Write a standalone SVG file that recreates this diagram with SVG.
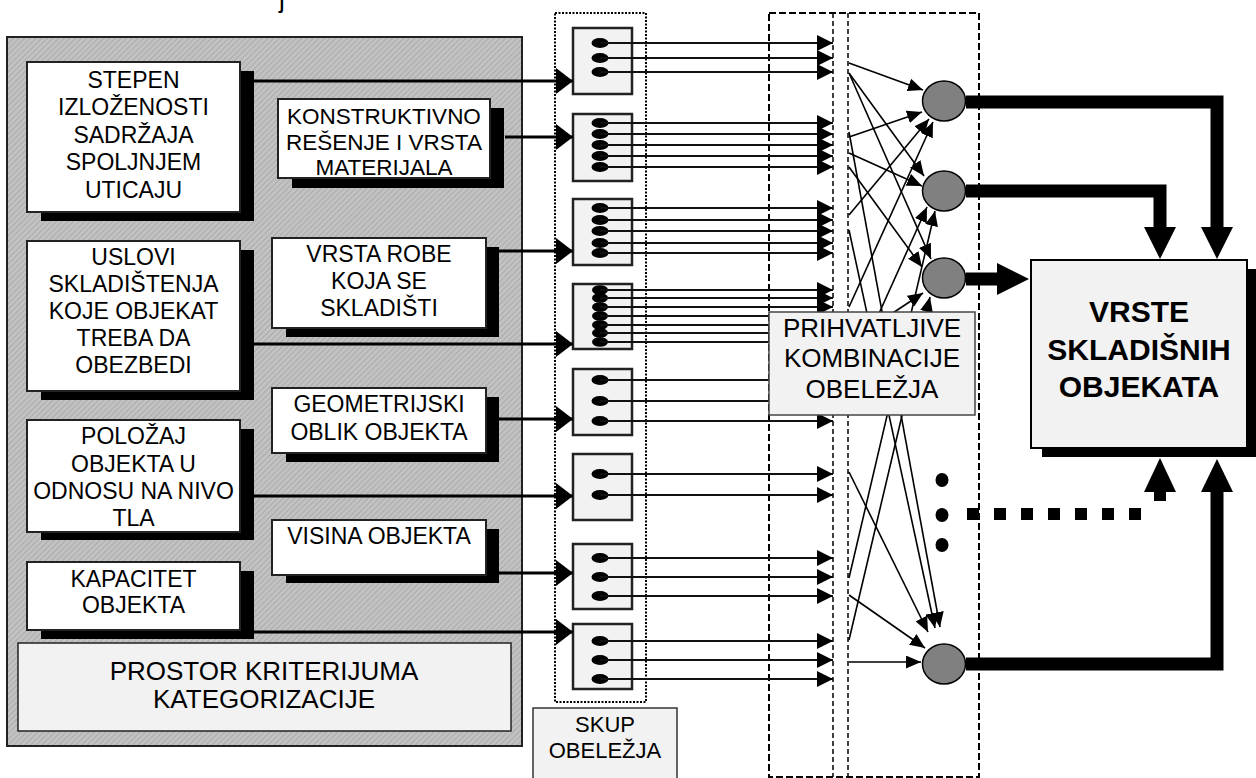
<svg xmlns="http://www.w3.org/2000/svg" width="1256" height="778" viewBox="0 0 1256 778">
<style>
text{font-family:"Liberation Sans",Arial,sans-serif;fill:#000;text-anchor:middle}
.t{font-size:23px}
.wbox{fill:#fff;stroke:#222;stroke-width:2}
.shadow{fill:#000}
.fbox{fill:#f2f2f2;stroke:#222;stroke-width:2.5}
.dot{fill:#000}
.thick{stroke:#000;stroke-width:3;fill:none}
.feat{stroke:#111;stroke-width:1.8;fill:none}
.mesh{stroke:#000;stroke-width:1.6;fill:none}
.bar{stroke:#000;stroke-width:13;fill:none;stroke-linejoin:miter}
.circ{fill:#808080;stroke:#000;stroke-width:1.5}
</style>
<defs>
<pattern id="hatch" patternUnits="userSpaceOnUse" width="4" height="4" patternTransform="rotate(45)">
<rect width="4" height="4" fill="#c2c2c2"/>
<line x1="0" y1="0" x2="0" y2="4" stroke="#a2a2a2" stroke-width="1.4"/>
</pattern>
<marker id="big" markerUnits="userSpaceOnUse" markerWidth="17" markerHeight="26" refX="17" refY="13" orient="auto"><path d="M0,0 L17,13 L0,26 z" fill="#000"/></marker>
<marker id="mid" markerUnits="userSpaceOnUse" markerWidth="16" markerHeight="16" refX="16" refY="8" orient="auto"><path d="M0,0 L16,8 L0,16 z" fill="#000"/></marker>
<marker id="sm" markerUnits="userSpaceOnUse" markerWidth="15" markerHeight="13" refX="15" refY="6.5" orient="auto"><path d="M0,0 L15,6.5 L0,13 z" fill="#000"/></marker>
</defs>
<rect width="1256" height="778" fill="#fff"/>
<text x="282" y="8" style="font-size:26px">j</text>

<g id="prostor-space">
<rect x="7" y="37" width="515" height="709" fill="url(#hatch)" stroke="#222" stroke-width="2"/>
</g>

<g id="n-stepen">
<rect class="shadow" x="41" y="71" width="213" height="150"/>
<rect class="wbox" x="27" y="62" width="213" height="150"/>
<text class="t" x="133.5" y="87.5">STEPEN</text>
<text class="t" x="133.5" y="115">IZLOŽENOSTI</text>
<text class="t" x="133.5" y="142.5">SADRŽAJA</text>
<text class="t" x="133.5" y="170">SPOLJNJEM</text>
<text class="t" x="133.5" y="197.5">UTICAJU</text>
</g>
<g id="n-konstruktivno">
<rect class="shadow" x="292" y="108" width="212" height="80"/>
<rect class="wbox" x="278" y="99" width="212" height="79"/>
<text x="384" y="124" style="font-size:22.5px">KONSTRUKTIVNO</text>
<text x="384" y="150" style="font-size:22.5px">REŠENJE I VRSTA</text>
<text x="384" y="175" style="font-size:22.5px">MATERIJALA</text>
</g>
<g id="n-uslovi">
<rect class="shadow" x="41" y="250" width="213" height="150"/>
<rect class="wbox" x="27" y="241" width="213" height="150"/>
<text class="t" x="133.5" y="265">USLOVI</text>
<text class="t" x="133.5" y="292">SKLADIŠTENJA</text>
<text class="t" x="133.5" y="319">KOJE OBJEKAT</text>
<text class="t" x="133.5" y="346">TREBA DA</text>
<text class="t" x="133.5" y="373">OBEZBEDI</text>
</g>
<g id="n-vrsta-robe">
<rect class="shadow" x="286" y="247" width="213" height="90"/>
<rect class="wbox" x="272" y="238" width="214" height="90"/>
<text class="t" x="379" y="262">VRSTA ROBE</text>
<text class="t" x="379" y="289">KOJA SE</text>
<text class="t" x="379" y="316">SKLADIŠTI</text>
</g>
<g id="n-geometrijski">
<rect class="shadow" x="286" y="397" width="213" height="65"/>
<rect class="wbox" x="272" y="388" width="214" height="65"/>
<text class="t" x="379" y="412">GEOMETRIJSKI</text>
<text class="t" x="379" y="440">OBLIK OBJEKTA</text>
</g>
<g id="n-polozaj">
<rect class="shadow" x="41" y="429" width="213" height="111"/>
<rect class="wbox" x="27" y="420" width="213" height="112"/>
<text class="t" x="133.5" y="444">POLOŽAJ</text>
<text class="t" x="133.5" y="472">OBJEKTA U</text>
<text class="t" x="133.5" y="499">ODNOSU NA NIVO</text>
<text class="t" x="133.5" y="526">TLA</text>
</g>
<g id="n-visina">
<rect class="shadow" x="286" y="529" width="213" height="54"/>
<rect class="wbox" x="272" y="520" width="214" height="55"/>
<text class="t" x="379" y="544">VISINA OBJEKTA</text>
</g>
<g id="n-kapacitet">
<rect class="shadow" x="41" y="571" width="213" height="68"/>
<rect class="wbox" x="27" y="562" width="213" height="68"/>
<text class="t" x="133.5" y="587">KAPACITET</text>
<text class="t" x="133.5" y="613">OBJEKTA</text>
</g>
<g id="n-prostor-label">
<rect x="18" y="643" width="493" height="88" fill="#f2f2f2" stroke="#222" stroke-width="1.5"/>
<text x="264" y="680" style="font-size:26px">PROSTOR KRITERIJUMA</text>
<text x="264" y="708" style="font-size:26px">KATEGORIZACIJE</text>
</g>

<g id="skup">
<rect x="555" y="13" width="91" height="689" fill="none" stroke="#000" stroke-width="2" stroke-dasharray="2 1.5"/>
</g>
<g id="skup-label">
<rect x="533" y="708" width="144" height="75" fill="#f2f2f2" stroke="#333" stroke-width="1.5"/>
<text x="605" y="732" style="font-size:22px">SKUP</text>
<text x="605" y="758" style="font-size:22px">OBELEŽJA</text>
</g>

<g id="f1"><rect class="fbox" x="573" y="28" width="59" height="66"/><ellipse class="dot" cx="600" cy="43" rx="8.5" ry="5"/><ellipse class="dot" cx="600" cy="58" rx="8.5" ry="5"/><ellipse class="dot" cx="600" cy="72" rx="8.5" ry="5"/></g>
<g id="f2"><rect class="fbox" x="573" y="114" width="59" height="67"/><ellipse class="dot" cx="600" cy="123" rx="8.5" ry="5"/><ellipse class="dot" cx="600" cy="134" rx="8.5" ry="5"/><ellipse class="dot" cx="600" cy="145" rx="8.5" ry="5"/><ellipse class="dot" cx="600" cy="156" rx="8.5" ry="5"/><ellipse class="dot" cx="600" cy="167" rx="8.5" ry="5"/></g>
<g id="f3"><rect class="fbox" x="573" y="199" width="59" height="66"/><ellipse class="dot" cx="600" cy="208" rx="8.5" ry="5"/><ellipse class="dot" cx="600" cy="220" rx="8.5" ry="5"/><ellipse class="dot" cx="600" cy="231" rx="8.5" ry="5"/><ellipse class="dot" cx="600" cy="243" rx="8.5" ry="5"/><ellipse class="dot" cx="600" cy="253" rx="8.5" ry="5"/></g>
<g id="f4"><rect class="fbox" x="573" y="284" width="59" height="65"/><ellipse class="dot" cx="600" cy="290" rx="8" ry="4.8"/><ellipse class="dot" cx="600" cy="298" rx="8" ry="4.8"/><ellipse class="dot" cx="600" cy="307" rx="8" ry="4.8"/><ellipse class="dot" cx="600" cy="316" rx="8" ry="4.8"/><ellipse class="dot" cx="600" cy="325" rx="8" ry="4.8"/><ellipse class="dot" cx="600" cy="333" rx="8" ry="4.8"/><ellipse class="dot" cx="600" cy="342" rx="8" ry="4.8"/></g>
<g id="f5"><rect class="fbox" x="573" y="369" width="59" height="66"/><ellipse class="dot" cx="600" cy="380" rx="8.5" ry="5"/><ellipse class="dot" cx="600" cy="401" rx="8.5" ry="5"/><ellipse class="dot" cx="600" cy="421" rx="8.5" ry="5"/></g>
<g id="f6"><rect class="fbox" x="573" y="454" width="59" height="66"/><ellipse class="dot" cx="600" cy="474" rx="8.5" ry="5"/><ellipse class="dot" cx="600" cy="495" rx="8.5" ry="5"/></g>
<g id="f7"><rect class="fbox" x="573" y="544" width="59" height="65"/><ellipse class="dot" cx="600" cy="558" rx="8.5" ry="5"/><ellipse class="dot" cx="600" cy="577" rx="8.5" ry="5"/><ellipse class="dot" cx="600" cy="596" rx="8.5" ry="5"/></g>
<g id="f8"><rect class="fbox" x="573" y="624" width="59" height="65"/><ellipse class="dot" cx="600" cy="641" rx="8.5" ry="5"/><ellipse class="dot" cx="600" cy="660" rx="8.5" ry="5"/><ellipse class="dot" cx="600" cy="679" rx="8.5" ry="5"/></g>

<g id="combination-zone">
<rect x="769" y="13" width="210" height="764" fill="none" stroke="#000" stroke-width="2" stroke-dasharray="7 3"/>
<line x1="833" y1="13" x2="833" y2="777" stroke="#000" stroke-width="1.5" stroke-dasharray="5 3"/>
<line x1="848" y1="13" x2="848" y2="777" stroke="#000" stroke-width="1.5" stroke-dasharray="5 3"/>
</g>

<g id="connectors">
<path class="thick" d="M254 81 H573" marker-end="url(#big)"/>
<path class="thick" d="M505 137 H573" marker-end="url(#big)"/>
<path class="thick" d="M499 251 H573" marker-end="url(#big)"/>
<path class="thick" d="M254 344 H573" marker-end="url(#big)"/>
<path class="thick" d="M499 419 H573" marker-end="url(#big)"/>
<path class="thick" d="M254 496 H573" marker-end="url(#big)"/>
<path class="thick" d="M499 573 H573" marker-end="url(#big)"/>
<path class="thick" d="M254 632 H573" marker-end="url(#big)"/>

<path class="feat" d="M600 43 H833" marker-end="url(#mid)"/>
<path class="feat" d="M600 58 H833" marker-end="url(#mid)"/>
<path class="feat" d="M600 72 H833" marker-end="url(#mid)"/>
<path class="feat" d="M600 123 H833" marker-end="url(#mid)"/>
<path class="feat" d="M600 134 H833" marker-end="url(#mid)"/>
<path class="feat" d="M600 145 H833" marker-end="url(#mid)"/>
<path class="feat" d="M600 156 H833" marker-end="url(#mid)"/>
<path class="feat" d="M600 167 H833" marker-end="url(#mid)"/>
<path class="feat" d="M600 208 H833" marker-end="url(#mid)"/>
<path class="feat" d="M600 220 H833" marker-end="url(#mid)"/>
<path class="feat" d="M600 231 H833" marker-end="url(#mid)"/>
<path class="feat" d="M600 243 H833" marker-end="url(#mid)"/>
<path class="feat" d="M600 253 H833" marker-end="url(#mid)"/>
<path class="feat" d="M600 290 H833" marker-end="url(#mid)"/>
<path class="feat" d="M600 298 H833" marker-end="url(#mid)"/>
<path class="feat" d="M600 307 H833" marker-end="url(#mid)"/>
<path class="feat" d="M600 316 H800"/>
<path class="feat" d="M600 325 H800"/>
<path class="feat" d="M600 333 H800"/>
<path class="feat" d="M600 342 H800"/>
<path class="feat" d="M600 380 H800"/>
<path class="feat" d="M600 401 H800"/>
<path class="feat" d="M600 421 H833" marker-end="url(#mid)"/>
<path class="feat" d="M600 474 H833" marker-end="url(#mid)"/>
<path class="feat" d="M600 495 H833" marker-end="url(#mid)"/>
<path class="feat" d="M600 558 H833" marker-end="url(#mid)"/>
<path class="feat" d="M600 577 H833" marker-end="url(#mid)"/>
<path class="feat" d="M600 596 H833" marker-end="url(#mid)"/>
<path class="feat" d="M600 641 H833" marker-end="url(#mid)"/>
<path class="feat" d="M600 660 H833" marker-end="url(#mid)"/>
<path class="feat" d="M600 679 H833" marker-end="url(#mid)"/>

<path class="mesh" d="M849 63 L923 90" marker-end="url(#sm)"/>
<path class="mesh" d="M849 137 L922 112" marker-end="url(#sm)"/>
<path class="mesh" d="M849 215 L929 119" marker-end="url(#sm)"/>
<path class="mesh" d="M849 307 L933 122" marker-end="url(#sm)"/>
<path class="mesh" d="M849 73 L924 176" marker-end="url(#sm)"/>
<path class="mesh" d="M849 153 L922 186" marker-end="url(#sm)"/>
<path class="mesh" d="M849 380 L927 207" marker-end="url(#sm)"/>
<path class="mesh" d="M849 578 L935 211" marker-end="url(#sm)"/>
<path class="mesh" d="M849 73 L931 259" marker-end="url(#sm)"/>
<path class="mesh" d="M849 167 L922 267" marker-end="url(#sm)"/>
<path class="mesh" d="M849 342 L923 293" marker-end="url(#sm)"/>
<path class="mesh" d="M849 640 L930 297" marker-end="url(#sm)"/>
<path class="mesh" d="M849 230 L935 628" marker-end="url(#sm)"/>
<path class="mesh" d="M849 132 L940 627" marker-end="url(#sm)"/>
<path class="mesh" d="M849 472 L928 632" marker-end="url(#sm)"/>
<path class="mesh" d="M849 595 L925 648" marker-end="url(#sm)"/>
<path class="mesh" d="M849 662 L921 662" marker-end="url(#sm)"/>

<path class="bar" d="M966 102 H1217 V228"/>
<polygon points="1201,227 1233,227 1217,259"/>
<path class="bar" d="M966 191 H1160 V228"/>
<polygon points="1144,227 1176,227 1160,259"/>
<path class="bar" d="M966 279 H998"/>
<polygon points="997,263 997,295 1029,279"/>
<path class="bar" d="M966 664 H1217 V491"/>
<polygon points="1201,492 1233,492 1217,459"/>
<rect x="967" y="508" width="12" height="12"/>
<rect x="994" y="508" width="12" height="12"/>
<rect x="1021" y="508" width="12" height="12"/>
<rect x="1048" y="508" width="12" height="12"/>
<rect x="1075" y="508" width="12" height="12"/>
<rect x="1102" y="508" width="12" height="12"/>
<rect x="1129" y="508" width="12" height="12"/>
<rect x="1154" y="491" width="12" height="10"/>
<polygon points="1144,492 1176,492 1160,458"/>
</g>

<g id="n-prihvatljive">
<rect x="769" y="312" width="206" height="103" fill="#f2f2f2" stroke="#444" stroke-width="1.5"/>
<text x="872" y="337" style="font-size:26px">PRIHVATLJIVE</text>
<text x="872" y="367" style="font-size:26px">KOMBINACIJE</text>
<text x="872" y="398" style="font-size:26px">OBELEŽJA</text>
</g>

<g id="c1"><ellipse class="circ" cx="944" cy="101" rx="21.5" ry="20"/></g>
<g id="c2"><ellipse class="circ" cx="944" cy="191" rx="21.5" ry="20"/></g>
<g id="c3"><ellipse class="circ" cx="944" cy="278" rx="21.5" ry="20"/></g>
<g id="c4"><ellipse class="circ" cx="944" cy="664" rx="21.5" ry="20"/></g>
<g id="ellipsis">
<ellipse cx="942" cy="480" rx="6.5" ry="7"/>
<ellipse cx="942" cy="515" rx="6.5" ry="7"/>
<ellipse cx="942" cy="545" rx="6.5" ry="7"/>
</g>

<g id="n-vrste">
<rect x="1042" y="269" width="216" height="188" fill="#000"/>
<rect x="1031" y="260" width="216" height="188" fill="#f2f2f2" stroke="#000" stroke-width="2"/>
<text x="1139" y="322" style="font-size:30px;font-weight:bold">VRSTE</text>
<text x="1139" y="360" style="font-size:30px;font-weight:bold">SKLADIŠNIH</text>
<text x="1139" y="397" style="font-size:30px;font-weight:bold">OBJEKATA</text>
</g>
</svg>
